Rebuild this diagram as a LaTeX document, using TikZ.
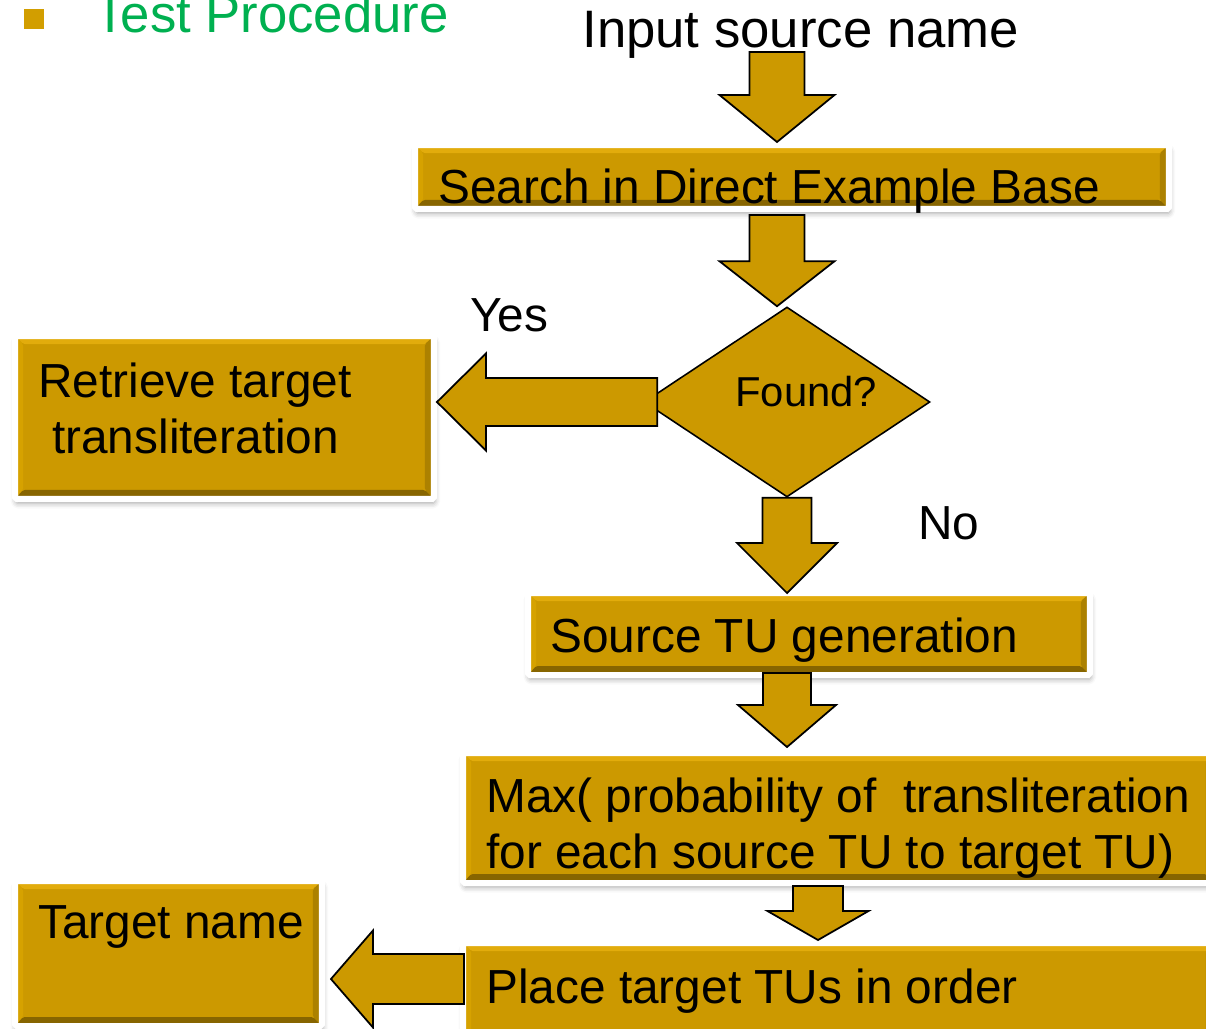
\documentclass[tikz,border=0pt]{standalone}
\usepackage{fontspec}
\setmainfont{Liberation Sans}
\usepackage{tikz}
\usetikzlibrary{shapes.geometric,calc,shadows.blur,positioning}
\definecolor{tugold}{RGB}{204,153,0}
\definecolor{tulight}{RGB}{226,172,12}
\definecolor{tuleft}{RGB}{214,162,0}
\definecolor{turight}{RGB}{172,129,0}
\definecolor{tudark}{RGB}{135,101,0}
\definecolor{bulletgold}{RGB}{210,158,0}
\definecolor{titlegreen}{RGB}{0,176,80}
\newcommand{\tufont}{\fontsize{27.2}{31.8}\selectfont}
\newcommand{\titlefont}{\fontsize{30}{36}\selectfont}
\newcommand{\askfont}{\fontsize{23.8}{28}\selectfont}
\newdimen\pxu \pxu=0.02cm
% block arrow pointing down: tail, tip, half shaft, half head, head length (px)
\newcommand{\blockdown}[5]{%
  \draw[blockarrow] let \p1=#1, \p2=#2 in
    (\x2-#3*\pxu,\y1) -- (\x2-#3*\pxu,\y2+#5*\pxu) -- (\x2-#4*\pxu,\y2+#5*\pxu) -- (\x2,\y2)
    -- (\x2+#4*\pxu,\y2+#5*\pxu) -- (\x2+#3*\pxu,\y2+#5*\pxu) -- (\x2+#3*\pxu,\y1) -- cycle;}
% block arrow pointing left
\newcommand{\blockleft}[5]{%
  \draw[blockarrow] let \p1=#1, \p2=#2 in
    (\x1,\y2-#3*\pxu) -- (\x2+#5*\pxu,\y2-#3*\pxu) -- (\x2+#5*\pxu,\y2-#4*\pxu) -- (\x2,\y2)
    -- (\x2+#5*\pxu,\y2+#4*\pxu) -- (\x2+#5*\pxu,\y2+#3*\pxu) -- (\x1,\y2+#3*\pxu) -- cycle;}

\begin{document}
\begin{tikzpicture}[
        x=0.02cm, y=-0.02cm,
        bevel/.style={path picture={
            \fill[tulight] (path picture bounding box.north west) -- (path picture bounding box.north east) -- ++(-8,8) -- ($(path picture bounding box.north west)+(8,8)$) -- cycle;
            \fill[tuleft] (path picture bounding box.north west) -- ($(path picture bounding box.north west)+(8,8)$) -- ($(path picture bounding box.south west)+(8,-9)$) -- (path picture bounding box.south west) -- cycle;
            \fill[turight] (path picture bounding box.north east) -- (path picture bounding box.south east) -- ++(-9,-9) -- ($(path picture bounding box.north east)+(-9,8)$) -- cycle;
            \fill[tudark] (path picture bounding box.south west) -- (path picture bounding box.south east) -- ++(-9,-9) -- ($(path picture bounding box.south west)+(8,-9)$) -- cycle;
        }},
        tubox/.style={rectangle, draw=white, line width=0.12cm, fill=tugold, inner sep=0pt, rounded corners=1pt,
            blur shadow={shadow xshift=0.5pt, shadow yshift=-2.5pt, shadow blur radius=3pt, shadow opacity=35}, bevel},
        decision/.style={diamond, draw=black, line width=0.9pt, fill=tugold, inner sep=0pt},
        blockarrow/.style={draw=black, line width=1pt, fill=tugold, line join=miter},
        tutext/.style={anchor=base west, inner sep=0pt, font=\tufont}
    ]
    \useasboundingbox (0,0) rectangle (1206,1028);

    % heading
    \node[fill=bulletgold, minimum size=0.4cm, inner sep=0pt] (bullet) at (34,19) {};
    \node[tutext, font=\titlefont, text=titlegreen] (title) at (94,32) {Test Procedure};

    % boxes
    \node[tubox, minimum width=15.08cm, minimum height=1.28cm] (search) at (792,177) {};
    \node[tubox, minimum width=8.38cm, minimum height=3.26cm] (retrieve) at (224.5,417.5) {};
    \node[tubox, minimum width=11.24cm, minimum height=1.64cm] (source) at (809,634) {};
    \node[tubox, minimum width=15.04cm, minimum height=2.6cm] (maxprob) at (839,818) {};
    \node[tubox, minimum width=15.04cm, minimum height=2.34cm] (place) at (839,1001.5) {};
    \node[tubox, minimum width=6.14cm, minimum height=2.9cm] (target) at (168.5,953.5) {};
    \node[decision, minimum width=5.72cm, minimum height=3.8cm] (found) at (787,402) {};

    % input text
    \node[tutext, font=\titlefont] (input) at (582,47) {Input source name};

    % arrows
    \blockdown{([yshift=-0.1cm]input.base)}{([xshift=-0.3cm]search.north)}{27.5}{57.5}{47}
    \blockdown{([yshift=-0.06cm]search.south)}{([xshift=-0.2cm]found.north)}{27.5}{57.5}{45}
    \blockdown{(found.south)}{([yshift=-0.06cm]source.north -| found.south)}{24.5}{50}{50}
    \blockdown{([yshift=0.1cm]source.south)}{([yshift=0.06cm]maxprob.north -| found.south)}{24}{49}{42}
    \blockdown{(maxprob.south)}{([xshift=-0.42cm]place.north)}{25}{50.5}{29}
    \blockleft{([xshift=0.28cm]found.west)}{(retrieve.east |- found.west)}{24}{48.5}{49}
    \blockleft{([xshift=0.08cm]place.west)}{([xshift=0.12cm, yshift=-0.51cm]target.east)}{25}{48.5}{42}

    % texts (multi-line ones sit on their last baseline)
    \node[tutext] (searchtxt) at (438,203) {Search in Direct Example Base};
    \node[tutext, align=left] (retrievetxt) at (38,453) {Retrieve target\\\hspace{0.29em}transliteration};
    \node[tutext, font=\askfont] (asktxt) at (735,406) {Found?};
    \node[tutext] (yes) at (470,331) {Yes};
    \node[tutext] (no) at (918,539) {No};
    \node[tutext] (sourcetxt) at (550,652) {Source TU generation};
    \node[tutext, align=left] (maxtxt) at (486,868) {Max( probability of\ \ transliteration\\for each source TU to target TU)};
    \node[tutext] (placetxt) at (486,1003) {Place target TUs in order};
    \node[tutext] (targettxt) at (38,938) {Target name};
\end{tikzpicture}
\end{document}
